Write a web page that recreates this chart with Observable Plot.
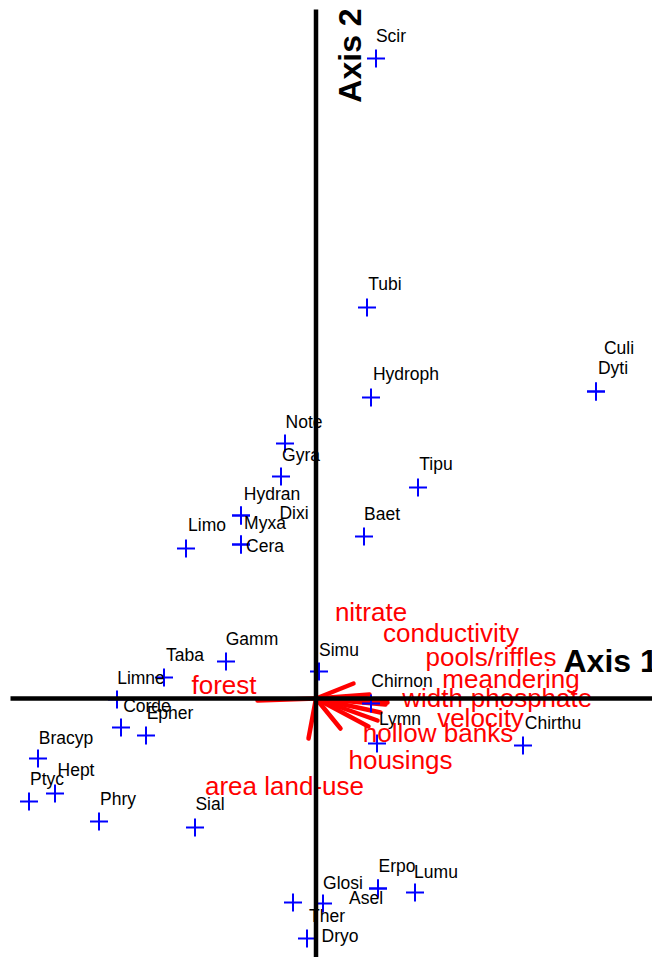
<!DOCTYPE html>
<html>
<head>
<meta charset="utf-8">
<script src="https://cdn.jsdelivr.net/npm/d3@7"></script>
<script src="https://cdn.jsdelivr.net/npm/@observablehq/plot@0.6"></script>
<style>
  html, body { margin: 0; padding: 0; background: #fff; }
  #chart svg { display: block; }
</style>
</head>
<body>
<div id="chart"></div>
<script>
// Species scores (cross position) and label positions
const speciesNames = ["Scir","Tubi","Hydroph","Culi","Dyti","Note","Gyra","Tipu","Hydran","Dixi","Myxa","Cera","Limo","Baet","Gamm","Simu","Taba","Limne","Corde","Epher","Bracyp","Hept","Ptyc","Phry","Sial","Chirnon","Lymn","Chirthu","Erpo","Asel","Lumu","Glosi","Ther","Dryo"];
const speciesAxis1 = [0.60,0.51,0.55,2.80,2.80,-0.31,-0.35,1.02,-0.75,-0.75,-0.75,-0.75,-1.30,0.48,-0.90,0.03,-1.52,-1.99,-1.95,-1.70,-2.78,-2.61,-2.87,-2.17,-1.21,0.55,0.61,2.07,0.62,0.62,0.99,0.07,-0.23,-0.09];
const speciesAxis2 = [6.40,3.91,3.01,3.07,3.07,2.55,2.22,2.11,1.83,1.83,1.54,1.54,1.50,1.62,0.37,0.27,0.21,-0.01,-0.29,-0.37,-0.60,-0.95,-1.03,-1.23,-1.29,-0.05,-0.45,-0.47,-1.90,-1.90,-1.94,-2.05,-2.04,-2.40];
const speciesLabelAxis1 = [0.75,0.69,0.90,3.03,2.97,-0.12,-0.15,1.20,-0.44,-0.22,-0.51,-0.51,-1.09,0.66,-0.64,0.23,-1.31,-1.75,-1.69,-1.46,-2.50,-2.40,-2.69,-1.98,-1.06,0.86,0.84,2.37,0.81,0.50,1.20,0.27,0.11,0.24];
const speciesLabelAxis2 = [6.62,4.14,3.24,3.50,3.30,2.76,2.43,2.34,2.04,1.85,1.75,1.52,1.73,1.84,0.59,0.48,0.43,0.20,-0.08,-0.15,-0.40,-0.72,-0.81,-1.01,-1.06,0.17,-0.21,-0.25,-1.68,-2.00,-1.74,-1.85,-2.18,-2.38];

// Environmental variables: arrow tips and label positions
const envNames = ["nitrate","conductivity","pools/riffles","meandering","width","phosphate","velocity","hollow banks","housings","area land-use","forest"];
const envAxis1 = [0.375,0.535,0.715,0.715,0.695,0.645,0.615,0.525,0.245,-0.075,-0.585];
const envAxis2 = [0.15,0.04,-0.01,-0.04,-0.06,-0.14,-0.22,-0.28,-0.30,-0.40,-0.02];
const envLabelAxis1 = [0.55,1.35,1.75,1.95,1.165,2.155,1.645,1.22,0.845,-0.315,-0.92];
const envLabelAxis2 = [0.86,0.65,0.41,0.19,0.0,0.0,-0.20,-0.35,-0.62,-0.88,0.13];

// Axis titles
const axisTitles = ["Axis 1","Axis 2"];
const axisTitleAxis1 = [2.475, 0.35];
const axisTitleAxis2 = [0.365, 6.43];

// Plot window and axis line extents
const xDomain = [-3.155, 3.365];
const yDomain = [-2.59, 6.98];
const hAxisExtent = [-3.055, 3.365];
const vAxisExtent = [-2.59, 6.89];

const species = speciesNames.map((name, i) => ({
  name, x: speciesAxis1[i], y: speciesAxis2[i], lx: speciesLabelAxis1[i], ly: speciesLabelAxis2[i]
}));
const env = envNames.map((name, i) => ({
  name, x: envAxis1[i], y: envAxis2[i], lx: envLabelAxis1[i], ly: envLabelAxis2[i]
}));
const titles = axisTitles.map((t, i) => ({t, x: axisTitleAxis1[i], y: axisTitleAxis2[i]}));

const crossSymbol = {
  draw(context, size) {
    const r = Math.sqrt(size / Math.PI);
    context.moveTo(-r, 0); context.lineTo(r, 0);
    context.moveTo(0, -r); context.lineTo(0, r);
  }
};

const chart = Plot.plot({
  width: 652,
  height: 957,
  margin: 0,
  style: {fontFamily: "'Liberation Sans', Arial, Helvetica, sans-serif", background: "white"},
  x: {domain: xDomain, axis: null},
  y: {domain: yDomain, axis: null},
  marks: [
    Plot.link(env, {x1: 0, y1: 0, x2: "x", y2: "y", stroke: "#ff0000", strokeWidth: 4.5, strokeLinecap: "round"}),
    Plot.dot(species, {x: "x", y: "y", symbol: crossSymbol, r: 9, stroke: "#0000ff", strokeWidth: 2, fill: "none"}),
    Plot.text(species, {x: "lx", y: "ly", text: "name", fontSize: 17.5, fill: "black"}),
    Plot.text(env, {x: "lx", y: "ly", text: "name", fontSize: 26, fill: "#ff0000"}),
    Plot.link([0], {x1: hAxisExtent[0], x2: hAxisExtent[1], y1: 0, y2: 0, stroke: "black", strokeWidth: 4.5}),
    Plot.link([0], {x1: 0, x2: 0, y1: vAxisExtent[0], y2: vAxisExtent[1], stroke: "black", strokeWidth: 4.5}),
    Plot.text(titles.slice(0, 1), {x: "x", y: "y", text: "t", fontSize: 32, fontWeight: "bold", fill: "black", textAnchor: "start"}),
    Plot.text(titles.slice(1), {x: "x", y: "y", text: "t", fontSize: 32, fontWeight: "bold", fill: "black", rotate: -90})
  ]
});
document.getElementById("chart").appendChild(chart);
</script>
</body>
</html>
